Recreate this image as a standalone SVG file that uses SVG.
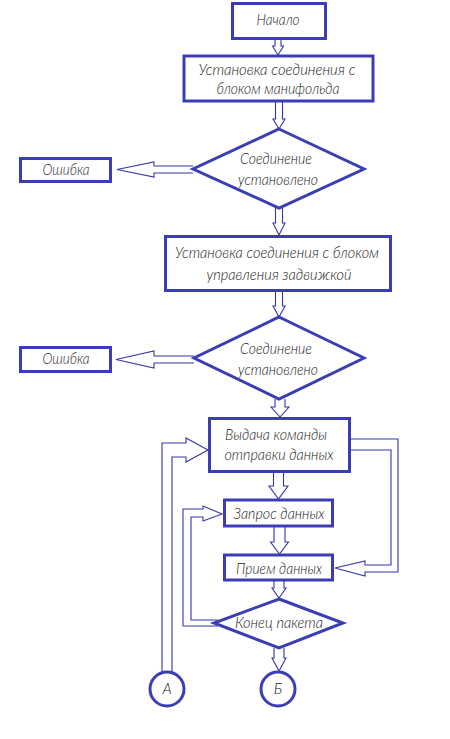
<svg xmlns="http://www.w3.org/2000/svg" width="450" height="739" viewBox="0 0 450 739">
<style>
.n{fill:#fff;stroke:#3b3db4;stroke-width:3}
.c{fill:none;stroke:#3535a8;stroke-width:1.1}
.t{font-family:"Lato","DejaVu Sans Condensed","Liberation Sans",sans-serif;font-weight:300;font-style:italic;font-size:15px;fill:#1a1a1a;text-anchor:middle}
</style>
<rect width="450" height="739" fill="#fff"/>
<g id="connectors">
<path class="c" d="M275,39 V46 H272.5 L278,55 L283.5,46 H281 V39"/>
<path class="c" d="M275.5,102 V119 H273 L279,129 L285,119 H282.5 V102"/>
<path class="c" d="M275.5,208 V223 H273 L279,235 L285,223 H282.5 V208"/>
<path class="c" d="M275.5,292 V306 H273 L279,317 L285,306 H282.5 V292"/>
<path class="c" d="M275,399 V407 H271 L280,417 L289,407 H285 V399"/>
<path class="c" d="M273.5,473 V486 H269 L278.5,499 L288,486 H283.5 V473"/>
<path class="c" d="M274,527 V542 H270.5 L279.5,554 L288.5,542 H285 V527"/>
<path class="c" d="M274,581 V588 H272 L279,598 L286,588 H284 V581"/>
<path class="c" d="M274,648 V658 H272 L279,671 L286,658 H284 V648"/>
<path class="c" d="M193,166 H154 V162 L117,169.5 L154,177 V173 H193"/>
<path class="c" d="M194,356 H154 V351 L116,359.5 L154,368 V363 H194"/>
<path class="c" d="M351,439 H398 V572 H365 V576 L335,568 L365,561 V565 H391 V450 H351"/>
<path class="c" d="M162,675 V443 H186 V438 L208,450 L186,462 V457 H172 V675"/>
<path class="c" d="M218,626 H183 V509 H203 V506 L222,514 L203,521 V517 H191 V620 H218"/>
</g>
<g id="start"><rect class="n" x="232.5" y="3.5" width="93" height="35"/><text class="t" x="278" y="25" textLength="43" lengthAdjust="spacingAndGlyphs">Начало</text></g>
<g id="connect1"><rect class="n" x="184" y="56" width="189" height="45"/><text class="t" x="277" y="75" textLength="157" lengthAdjust="spacingAndGlyphs">Установка соединения с</text><text class="t" x="278" y="94" textLength="123" lengthAdjust="spacingAndGlyphs">блоком манифольда</text></g>
<g id="check1"><polygon class="n" points="279,129 364,169 279,208 193,169"/><text class="t" x="276" y="164" textLength="72" lengthAdjust="spacingAndGlyphs">Соединение</text><text class="t" x="278" y="185" textLength="80" lengthAdjust="spacingAndGlyphs">установлено</text></g>
<g id="error1"><rect class="n" x="20.5" y="158.5" width="90" height="23"/><text class="t" x="66" y="175" textLength="47" lengthAdjust="spacingAndGlyphs">Ошибка</text></g>
<g id="connect2"><rect class="n" x="165.5" y="236.5" width="225" height="54"/><text class="t" x="277" y="258" textLength="204" lengthAdjust="spacingAndGlyphs">Установка соединения с блоком</text><text class="t" x="279" y="280" textLength="145" lengthAdjust="spacingAndGlyphs">управления задвижкой</text></g>
<g id="check2"><polygon class="n" points="279,317 364,358 279,399 194,358"/><text class="t" x="276" y="354" textLength="72" lengthAdjust="spacingAndGlyphs">Соединение</text><text class="t" x="278" y="375" textLength="80" lengthAdjust="spacingAndGlyphs">установлено</text></g>
<g id="error2"><rect class="n" x="20.5" y="347.5" width="90" height="24"/><text class="t" x="66" y="364" textLength="47" lengthAdjust="spacingAndGlyphs">Ошибка</text></g>
<g id="command"><rect class="n" x="209.5" y="418.5" width="140" height="53"/><text class="t" x="276" y="440" textLength="102" lengthAdjust="spacingAndGlyphs">Выдача команды</text><text class="t" x="279" y="460" textLength="109" lengthAdjust="spacingAndGlyphs">отправки данных</text></g>
<g id="request"><rect class="n" x="224.5" y="500" width="108" height="26"/><text class="t" x="279" y="519" textLength="91" lengthAdjust="spacingAndGlyphs">Запрос данных</text></g>
<g id="receive"><rect class="n" x="224.5" y="555" width="108" height="25"/><text class="t" x="279" y="574" textLength="86" lengthAdjust="spacingAndGlyphs">Прием данных</text></g>
<g id="end"><polygon class="n" points="279,599 343,623 279,648 214,623"/><text class="t" x="279" y="628" textLength="88" lengthAdjust="spacingAndGlyphs">Конец пакета</text></g>
<g id="A"><circle class="n" cx="167" cy="689" r="17"/><text class="t" x="167" y="694">А</text></g>
<g id="B"><circle class="n" cx="278" cy="689" r="17"/><text class="t" x="278" y="694">Б</text></g>
</svg>
